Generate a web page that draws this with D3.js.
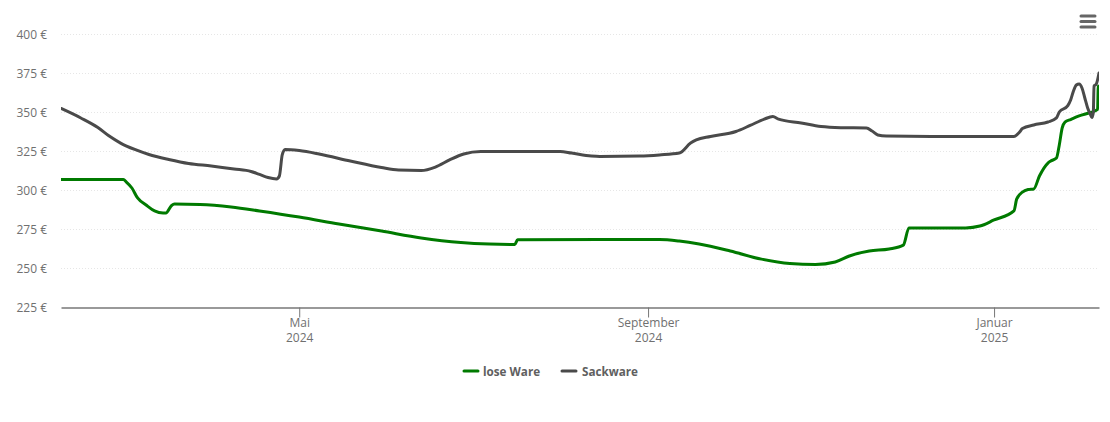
<!DOCTYPE html>
<html>
<head>
<meta charset="utf-8">
<script src="https://cdn.jsdelivr.net/npm/d3@7"></script>
<style>
    html, body { margin: 0; padding: 0; background: #fff; }
    svg { display: block; font-family: "Open Sans", sans-serif; }
</style>
</head>
<body>
<svg id="chart" width="1110" height="422"></svg>
<script>
// Values
const yTicks = [225, 250, 275, 300, 325, 350, 375, 400];
const xTickDates = ['2024-05-01 00', '2024-09-01 00', '2025-01-01 00'];
const xTickMonths = ['Mai', 'September', 'Januar'];
const xTickYears = ['2024', '2024', '2025'];
const xDomain = ['2024-02-07 00', '2025-02-07 00'];

const loseWareDates = [
    '2024-02-07 00', '2024-02-29 00', '2024-03-01 00', '2024-03-03 00', '2024-03-05 00', '2024-03-08 00',
    '2024-03-11 00', '2024-03-14 00', '2024-03-15 00', '2024-03-17 00', '2024-03-18 00', '2024-03-27 00',
    '2024-04-07 00', '2024-04-17 00', '2024-05-01 00', '2024-05-15 00', '2024-05-30 00', '2024-06-13 00',
    '2024-06-27 00', '2024-07-07 00', '2024-07-16 00', '2024-07-17 00', '2024-08-15 00', '2024-09-05 00',
    '2024-09-12 00', '2024-09-19 00', '2024-09-30 00', '2024-10-11 00', '2024-10-21 00', '2024-10-30 00',
    '2024-11-06 00', '2024-11-11 00', '2024-11-18 00', '2024-11-25 00', '2024-11-30 00', '2024-12-02 00',
    '2024-12-22 00', '2024-12-27 00', '2025-01-01 00', '2025-01-08 00', '2025-01-09 00', '2025-01-11 00',
    '2025-01-13 00', '2025-01-15 00', '2025-01-17 00', '2025-01-20 00', '2025-01-21 00', '2025-01-23 00',
    '2025-01-24 00', '2025-01-25 00', '2025-01-26 00', '2025-01-28 00', '2025-01-31 00', '2025-02-04 00',
    '2025-02-06 12', '2025-02-06 18', '2025-02-07 00'
];
const loseWareValues = [
    307, 307, 305.5, 301.6, 295.2, 290.7,
    286.9, 285.6, 285.6, 290.4, 291.3, 291,
    289.4, 286.9, 283, 278.5, 274, 269.6,
    266.7, 265.7, 265.4, 268.4, 268.6, 268.6,
    267.6, 265.7, 261.2, 256, 253.2, 252.6,
    254.2, 258, 261.2, 262.5, 265, 276,
    276, 277.2, 281.1, 286.9, 294.6, 299,
    300.6, 301, 309.3, 317.6, 318.9, 320.8,
    329.2, 340, 343.9, 345.5, 347.8, 350,
    352, 367, 353.5
];

const sackwareDates = [
    '2024-02-07 00', '2024-02-14 00', '2024-02-20 00', '2024-02-24 00', '2024-02-28 00', '2024-03-04 00',
    '2024-03-09 00', '2024-03-16 00', '2024-03-23 00', '2024-03-31 00', '2024-04-08 00', '2024-04-14 00',
    '2024-04-17 00', '2024-04-20 00', '2024-04-23 00', '2024-04-24 00', '2024-04-25 00', '2024-04-26 00',
    '2024-05-01 00', '2024-05-08 00', '2024-05-19 00', '2024-05-30 00', '2024-06-05 00', '2024-06-13 00',
    '2024-06-18 00', '2024-06-23 00', '2024-06-28 00', '2024-07-04 00', '2024-07-11 00', '2024-08-01 00',
    '2024-08-05 00', '2024-08-12 00', '2024-08-15 00', '2024-08-29 00', '2024-09-05 00', '2024-09-12 00',
    '2024-09-16 00', '2024-09-18 00', '2024-09-23 00', '2024-10-02 00', '2024-10-07 00', '2024-10-12 00',
    '2024-10-15 00', '2024-10-17 00', '2024-10-25 00', '2024-11-01 00', '2024-11-08 00', '2024-11-17 00',
    '2024-11-19 00', '2024-11-21 00', '2024-11-24 00', '2024-12-17 00', '2025-01-08 00', '2025-01-10 00',
    '2025-01-11 00', '2025-01-15 00', '2025-01-20 00', '2025-01-23 00', '2025-01-24 00', '2025-01-27 00',
    '2025-01-28 00', '2025-01-29 00', '2025-01-30 00', '2025-01-31 00', '2025-02-01 00', '2025-02-02 00',
    '2025-02-03 00', '2025-02-04 00', '2025-02-04 12', '2025-02-05 00', '2025-02-05 06', '2025-02-06 00',
    '2025-02-07 00'
];
const sackwareValues = [
    352.6, 346.5, 340.4, 334.9, 330.4, 326.3,
    323.1, 319.9, 317.3, 315.7, 313.8, 312.2,
    310.3, 308.3, 307.4, 309.3, 322.8, 326.3,
    325.6, 323.4, 318.9, 314.7, 313.1, 312.8,
    315, 319.6, 323.4, 325, 325, 325,
    324, 322.1, 321.8, 322.1, 322.8, 324,
    330.4, 332.4, 334.6, 337.8, 341.7, 345.8,
    347.4, 345.8, 343.3, 341, 340.3, 340.1,
    338.1, 335.6, 334.9, 334.6, 334.6, 337.5,
    339.7, 342, 343.9, 346.5, 350.3, 354.4,
    358, 363.8, 367.6, 368.3, 365.7, 359.3,
    352.9, 348.7, 346.8, 350, 367, 368,
    375.3
];

const seriesNames = ['lose Ware', 'Sackware'];
const seriesColors = ['#007a00', '#4a4a4a'];

const parseDate = d3.timeParse('%Y-%m-%d %H');
const svg = d3.select('#chart');

const x = d3.scaleTime().domain(xDomain.map(parseDate)).range([61, 1099]);
const y = d3.scaleLinear().domain([225, 400]).range([307.5, 34.5]);

// Grid lines
svg.append('g')
    .selectAll('line')
    .data(yTicks.filter(t => t > 225))
    .join('line')
    .attr('x1', 61)
    .attr('x2', 1099)
    .attr('y1', d => y(d))
    .attr('y2', d => y(d))
    .attr('stroke', '#e6e6e6')
    .attr('stroke-dasharray', '1,2');

// Y axis
const yAxis = svg.append('g')
    .attr('transform', 'translate(61,0)')
    .call(d3.axisLeft(y).tickValues(yTicks).tickFormat(d => d + ' €').tickSize(0).tickPadding(14));
yAxis.select('.domain').remove();
yAxis.selectAll('text')
    .attr('fill', '#707070')
    .attr('font-size', 12)
    .attr('font-family', '"Open Sans", sans-serif');

// X axis
const xAxis = svg.append('g')
    .attr('transform', 'translate(0,307.5)')
    .call(d3.axisBottom(x).tickValues(xTickDates.map(parseDate)).tickFormat('').tickSize(10).tickSizeOuter(0));
xAxis.select('.domain').attr('stroke', '#777').attr('stroke-width', 1.4);
xAxis.selectAll('.tick line').attr('stroke', '#777');
xAxis.selectAll('.tick text').remove();
xAxis.selectAll('.tick').each(function (d, i) {
    const label = d3.select(this).append('text')
        .attr('text-anchor', 'middle')
        .attr('fill', '#707070')
        .attr('font-size', 12)
        .attr('font-family', '"Open Sans", sans-serif');
    label.append('tspan').attr('x', 0).attr('y', 19.5).text(xTickMonths[i]);
    label.append('tspan').attr('x', 0).attr('y', 34.5).text(xTickYears[i]);
});

// Lines
const line = d3.line()
    .x(d => x(d.date))
    .y(d => y(d.value))
    .curve(d3.curveMonotoneX);

svg.append('clipPath').attr('id', 'plot-clip')
    .append('rect').attr('x', 61).attr('y', 0).attr('width', 1038).attr('height', 308);

function drawSeries(dates, values, color) {
    const points = dates.map((d, i) => ({ date: parseDate(d), value: values[i] }));
    svg.append('path')
        .datum(points)
        .attr('d', line)
        .attr('fill', 'none')
        .attr('stroke', color)
        .attr('stroke-width', 3)
        .attr('stroke-linejoin', 'round')
        .attr('stroke-linecap', 'round')
        .attr('clip-path', 'url(#plot-clip)');
}

drawSeries(loseWareDates, loseWareValues, seriesColors[0]);
drawSeries(sackwareDates, sackwareValues, seriesColors[1]);

// Legend
const legendX = [463, 561];
seriesNames.forEach((name, i) => {
    const item = svg.append('g').attr('transform', `translate(${legendX[i]},371)`);
    item.append('line')
        .attr('x1', 1)
        .attr('x2', 15)
        .attr('stroke', seriesColors[i])
        .attr('stroke-width', 3)
        .attr('stroke-linecap', 'round');
    item.append('text')
        .attr('x', i === 0 ? 20 : 21)
        .attr('y', 4.5)
        .attr('fill', '#606060')
        .attr('font-size', 11.7)
        .attr('font-weight', 700)
        .text(name);
});

// Menu icon
svg.append('g')
    .selectAll('line')
    .data([16, 21.5, 27])
    .join('line')
    .attr('x1', 1081)
    .attr('x2', 1095)
    .attr('y1', d => d)
    .attr('y2', d => d)
    .attr('stroke', '#666')
    .attr('stroke-width', 3)
    .attr('stroke-linecap', 'round');
</script>
</body>
</html>
